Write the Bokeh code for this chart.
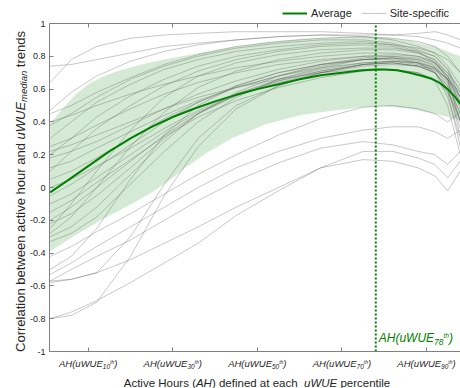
import math
from bokeh.plotting import figure
from bokeh.models import (Range1d, LinearAxis, FixedTicker, CustomJSTickFormatter,
                          Label, Legend, LegendItem)
from bokeh.embed import file_html
from bokeh.resources import INLINE

# ---------------- data ----------------
x_ticks = [10, 30, 50, 70, 90]
x_tick_prefix = "AH(uWUE"
x_tick_subs = ["10", "30", "50", "70", "90"]
x_lim = (0.85, 98.04)
y_ticks = [-1, -0.8, -0.6, -0.4, -0.2, 0, 0.2, 0.4, 0.6, 0.8, 1]
y_tick_labels = ["-1", "-0.8", "-0.6", "-0.4", "-0.2", "0", "0.2", "0.4", "0.6", "0.8", "1"]

# average curve
pct_avg = [1, 5, 10, 15, 20, 25, 30, 35, 40, 45, 50, 55, 60, 65, 70, 75, 78, 80, 83, 86, 89, 91, 93, 95, 96.5, 98]
avg_corr = [-0.03, 0.04, 0.13, 0.22, 0.30, 0.37, 0.43, 0.48, 0.525, 0.565, 0.60, 0.63, 0.66, 0.685,
            0.70, 0.715, 0.72, 0.72, 0.715, 0.70, 0.68, 0.665, 0.64, 0.60, 0.56, 0.51]

# shaded band (average +/- spread)
pct_band = [1, 4, 7, 10, 13, 17, 21, 25, 29, 33, 38, 44, 52, 60, 68, 75, 80, 86, 92, 98]
band_upper = [0.39, 0.48, 0.565, 0.63, 0.67, 0.71, 0.74, 0.765, 0.785, 0.805, 0.83, 0.855, 0.885,
              0.905, 0.915, 0.92, 0.915, 0.895, 0.86, 0.80]
band_lower = [-0.39, -0.34, -0.29, -0.245, -0.20, -0.145, -0.09, -0.03, 0.04, 0.12, 0.21, 0.30, 0.385,
              0.44, 0.47, 0.49, 0.495, 0.48, 0.45, 0.41]

# site-specific curves
pct_site = [1, 6, 12, 20, 28, 36, 45, 55, 65, 75, 82, 88, 92, 95, 98]
site_curves = [
    [0.64, 0.78, 0.86, 0.91, 0.93, 0.94, 0.95, 0.95, 0.95, 0.94, 0.93, 0.92, 0.90, 0.88, 0.85],
    [0.74, 0.75, 0.78, 0.82, 0.86, 0.88, 0.90, 0.92, 0.93, 0.93, 0.93, 0.94, 0.95, 0.93, 0.90],
    [0.47, 0.58, 0.68, 0.77, 0.83, 0.87, 0.90, 0.92, 0.93, 0.92, 0.90, 0.86, 0.82, 0.74, 0.62],
    [0.45, 0.50, 0.58, 0.67, 0.75, 0.81, 0.86, 0.89, 0.91, 0.92, 0.91, 0.89, 0.86, 0.80, 0.70],
    [0.38, 0.45, 0.55, 0.66, 0.74, 0.80, 0.85, 0.88, 0.90, 0.90, 0.88, 0.84, 0.80, 0.72, 0.55],
    [0.30, 0.40, 0.52, 0.63, 0.72, 0.78, 0.83, 0.86, 0.88, 0.89, 0.87, 0.85, 0.82, 0.78, 0.70],
    [0.20, 0.30, 0.43, 0.56, 0.66, 0.74, 0.80, 0.84, 0.87, 0.88, 0.87, 0.83, 0.76, 0.66, 0.48],
    [0.10, 0.22, 0.36, 0.50, 0.62, 0.71, 0.78, 0.83, 0.86, 0.87, 0.86, 0.82, 0.78, 0.70, 0.60],
    [0.40, 0.44, 0.50, 0.57, 0.63, 0.68, 0.73, 0.77, 0.80, 0.82, 0.82, 0.80, 0.76, 0.68, 0.52],
    [0.25, 0.30, 0.38, 0.48, 0.57, 0.64, 0.70, 0.75, 0.78, 0.80, 0.80, 0.79, 0.76, 0.70, 0.55],
    [0.18, 0.22, 0.28, 0.38, 0.48, 0.57, 0.65, 0.72, 0.77, 0.80, 0.81, 0.80, 0.77, 0.66, 0.40],
    [0.12, 0.16, 0.24, 0.34, 0.44, 0.53, 0.61, 0.68, 0.74, 0.78, 0.79, 0.76, 0.70, 0.55, 0.30],
    [0.05, 0.10, 0.18, 0.30, 0.42, 0.52, 0.61, 0.68, 0.73, 0.76, 0.77, 0.75, 0.72, 0.64, 0.45],
    [0.00, 0.05, 0.13, 0.24, 0.36, 0.47, 0.57, 0.65, 0.71, 0.75, 0.76, 0.74, 0.70, 0.60, 0.36],
    [-0.05, 0.02, 0.12, 0.26, 0.40, 0.52, 0.62, 0.70, 0.75, 0.78, 0.78, 0.76, 0.71, 0.58, 0.25],
    [-0.10, -0.04, 0.06, 0.20, 0.34, 0.46, 0.56, 0.64, 0.70, 0.74, 0.75, 0.74, 0.72, 0.66, 0.55],
    [-0.15, -0.08, 0.03, 0.17, 0.31, 0.43, 0.53, 0.61, 0.67, 0.71, 0.72, 0.70, 0.65, 0.50, 0.20],
    [-0.20, -0.12, 0.00, 0.16, 0.32, 0.45, 0.56, 0.65, 0.71, 0.75, 0.76, 0.74, 0.70, 0.62, 0.45],
    [0.22, 0.26, 0.32, 0.40, 0.48, 0.55, 0.61, 0.66, 0.70, 0.72, 0.72, 0.70, 0.66, 0.58, 0.42],
    [-0.22, -0.16, -0.05, 0.12, 0.30, 0.45, 0.57, 0.66, 0.72, 0.76, 0.77, 0.76, 0.73, 0.66, 0.58],
    [-0.25, -0.10, 0.10, 0.35, 0.55, 0.68, 0.76, 0.81, 0.84, 0.85, 0.85, 0.83, 0.80, 0.72, 0.58],
    [-0.28, -0.18, 0.00, 0.25, 0.46, 0.61, 0.71, 0.78, 0.82, 0.84, 0.84, 0.82, 0.78, 0.68, 0.50],
    [-0.30, -0.24, -0.12, 0.08, 0.28, 0.45, 0.58, 0.68, 0.75, 0.79, 0.80, 0.78, 0.74, 0.65, 0.40],
    [-0.33, -0.28, -0.18, 0.02, 0.22, 0.40, 0.55, 0.66, 0.73, 0.78, 0.79, 0.77, 0.73, 0.62, 0.32],
    [-0.50, -0.42, -0.25, 0.05, 0.32, 0.50, 0.62, 0.70, 0.75, 0.78, 0.79, 0.78, 0.75, 0.68, 0.55],
    [-0.57, -0.56, -0.52, -0.30, 0.02, 0.30, 0.50, 0.62, 0.70, 0.75, 0.77, 0.76, 0.73, 0.66, 0.52],
    [-0.80, -0.78, -0.70, -0.42, -0.05, 0.25, 0.48, 0.62, 0.70, 0.75, 0.76, 0.74, 0.70, 0.60, 0.40],
    [-0.80, -0.76, -0.69, -0.58, -0.46, -0.34, -0.17, -0.02, 0.12, 0.17, 0.16, 0.12, 0.07, -0.02, 0.10],
    [-0.58, -0.56, -0.52, -0.44, -0.34, -0.24, -0.12, 0.00, 0.12, 0.22, 0.22, 0.18, 0.14, 0.06, 0.16],
    [-0.57, -0.50, -0.42, -0.32, -0.20, -0.08, 0.04, 0.15, 0.24, 0.28, 0.26, 0.22, 0.20, 0.14, 0.22],
    [-0.53, -0.46, -0.36, -0.24, -0.12, 0.00, 0.12, 0.22, 0.30, 0.35, 0.37, 0.37, 0.34, 0.30, 0.35],
    [-0.42, -0.36, -0.27, -0.16, -0.04, 0.08, 0.20, 0.32, 0.42, 0.49, 0.50, 0.48, 0.45, 0.40, 0.46],
]

marker_pct = 78
marker_sub = "78"

# ---------------- helpers ----------------
FONT = "Liberation Sans"
TXT = "#262626"
GREEN = "#008000"
AX = "#808080"
AW = {' ': 278, '(': 333, ')': 333, '-': 333, '.': 278,
      'A': 667, 'B': 667, 'C': 722, 'D': 722, 'E': 667, 'F': 611, 'G': 778, 'H': 722, 'I': 278,
      'J': 500, 'K': 667, 'L': 556, 'M': 833, 'N': 722, 'O': 778, 'P': 667, 'Q': 778, 'R': 722,
      'S': 667, 'T': 611, 'U': 722, 'V': 667, 'W': 944, 'X': 667, 'Y': 667, 'Z': 611,
      'a': 556, 'b': 556, 'c': 500, 'd': 556, 'e': 556, 'f': 278, 'g': 556, 'h': 556, 'i': 222,
      'j': 222, 'k': 500, 'l': 222, 'm': 833, 'n': 556, 'o': 556, 'p': 556, 'q': 556, 'r': 333,
      's': 500, 't': 278, 'u': 556, 'v': 500, 'w': 722, 'x': 500, 'y': 500, 'z': 500}


def tw(s, size):
    return sum(AW.get(c, 556) for c in s) * size / 1000.0


# canvas = frame; the axes box occupies pixels [AL, W] x [AT, AB] of it
W, H = 460, 388
AL, AT, AB = 49, 23, 351
px_per_x = (W - AL) / (x_lim[1] - x_lim[0])
px_per_y = (AB - AT) / (y_ticks[-1] - y_ticks[0])
xr = Range1d(x_lim[0] - AL / px_per_x, x_lim[1])
yr = Range1d(y_ticks[0] - (H - AB) / px_per_y, y_ticks[-1] + AT / px_per_y)

p = figure(width=W, height=H, x_range=xr, y_range=yr,
           output_backend="svg", toolbar_location=None,
           min_border_left=0, min_border_right=0, min_border_top=0, min_border_bottom=0)
p.xgrid.visible = False
p.ygrid.visible = False
p.outline_line_color = None
p.background_fill_color = "white"
p.border_fill_color = "white"

blank = CustomJSTickFormatter(code="return '';")


def style_axis(ax, ticks):
    ax.ticker = FixedTicker(ticks=ticks)
    ax.major_tick_in = 4
    ax.major_tick_out = 0
    ax.minor_tick_in = 0
    ax.minor_tick_out = 0
    ax.axis_line_color = AX
    ax.major_tick_line_color = AX


for ax in p.xaxis:
    style_axis(ax, x_ticks)
    ax.fixed_location = y_ticks[0]
    ax.bounds = x_lim
    ax.formatter = blank
for ax in p.yaxis:
    style_axis(ax, y_ticks)
    ax.fixed_location = x_lim[0]
    ax.bounds = (y_ticks[0], y_ticks[-1])
    ax.formatter = CustomJSTickFormatter(
        args=dict(yt=y_ticks, yl=y_tick_labels),
        code="const i = yt.findIndex(t => Math.abs(t - tick) < 1e-9); return i >= 0 ? yl[i] : '';")
    ax.major_label_text_font = FONT
    ax.major_label_text_font_size = "9px"
    ax.major_label_text_color = TXT
    ax.major_label_standoff = 4

top = LinearAxis(formatter=CustomJSTickFormatter(code="return '';"))
style_axis(top, x_ticks)
top.fixed_location = y_ticks[-1]
top.bounds = x_lim
p.add_layout(top, "above")

# ---------------- glyphs ----------------
p.patch(x=pct_band + pct_band[::-1], y=band_upper + band_lower[::-1],
        fill_color=GREEN, fill_alpha=0.17, line_color=None)
gray_r = p.multi_line(xs=[pct_site] * len(site_curves), ys=site_curves,
                      line_color="#5a5a5a", line_alpha=0.42, line_width=0.8)
avg_r = p.line(pct_avg, avg_corr, line_color=GREEN, line_width=2)
p.line([marker_pct, marker_pct], [y_ticks[0], y_ticks[-1]], line_color=GREEN,
       line_width=2, line_dash="2 2")

LEG_H = 13
legend = Legend(items=[LegendItem(label="Average", renderers=[avg_r]),
                       LegendItem(label="Site-specific", renderers=[gray_r])],
                orientation="horizontal", location=(282, H - 5.5 - LEG_H),
                glyph_width=25, glyph_height=12, label_height=12, label_standoff=4,
                spacing=9, padding=0, margin=0, border_line_color=None,
                background_fill_alpha=0, label_text_font=FONT, label_text_font_size="11px",
                label_text_color=TXT)
p.add_layout(legend)


def rich(pieces, x0, y0, x_data=None, angle=0.0, color=TXT):
    """pieces: (text, size, italic, shift); shift = baseline shift upward in px.
    x0/y0 are screen px (y measured upward from the canvas bottom)."""
    cur = 0.0
    for t, size, it, shift in pieces:
        lead = tw(t[:len(t) - len(t.lstrip(" "))], size)
        s = t.strip(" ")
        pos = cur + lead
        if angle != 0:
            lab = Label(x=x0 - shift, x_units="screen", y=y0 + pos, y_units="screen", angle=angle)
        elif x_data is not None:
            lab = Label(x=x_data, x_units="data", x_offset=x0 + pos, y=y0 + shift, y_units="screen")
        else:
            lab = Label(x=x0 + pos, x_units="screen", y=y0 + shift, y_units="screen")
        lab.text = s
        lab.text_font = FONT
        lab.text_font_size = f"{size}px"
        lab.text_font_style = "italic" if it else "normal"
        lab.text_color = color
        lab.text_align = "left"
        lab.text_baseline = "alphabetic"
        p.add_layout(lab)
        cur += tw(t, size)


def total(pieces):
    return sum(tw(t, s) for t, s, _, _ in pieces)


# x tick labels (baseline 12 px below the axis)
for xv, sub in zip(x_ticks, x_tick_subs):
    pcs = [(x_tick_prefix, 9.5, True, 0), (sub, 6.5, True, -3), ("th", 5.0, True, 1.5), (")", 9.5, True, 0)]
    rich(pcs, -total(pcs) / 2, H - AB - 12, x_data=xv)

# marker label
pcs = [(x_tick_prefix, 12, True, 0), (marker_sub, 8.5, True, -4), ("th", 6.5, True, 2.5), (")", 12, True, 0)]
rich(pcs, 3, H - 337, x_data=marker_pct, color=GREEN)

# x axis label
pcs = [("Active Hours (", 11.5, False, 0), ("AH", 11.5, True, 0), (") defined at each  ", 11.5, False, 0),
       ("uWUE", 11.5, True, 0), (" percentile", 11.5, False, 0)]
rich(pcs, 256.5 - total(pcs) / 2, H - 382.5)

# y axis label (rotated)
pcs = [("Correlation between active hour and ", 13, False, 0), ("uWUE", 13, True, 0),
       ("median", 9.5, True, -3), (" trends", 13, False, 0)]
rich(pcs, 19.5, (H - 191) - total(pcs) / 2, angle=math.pi / 2)

open("out.html", "w").write(file_html(p, INLINE))
